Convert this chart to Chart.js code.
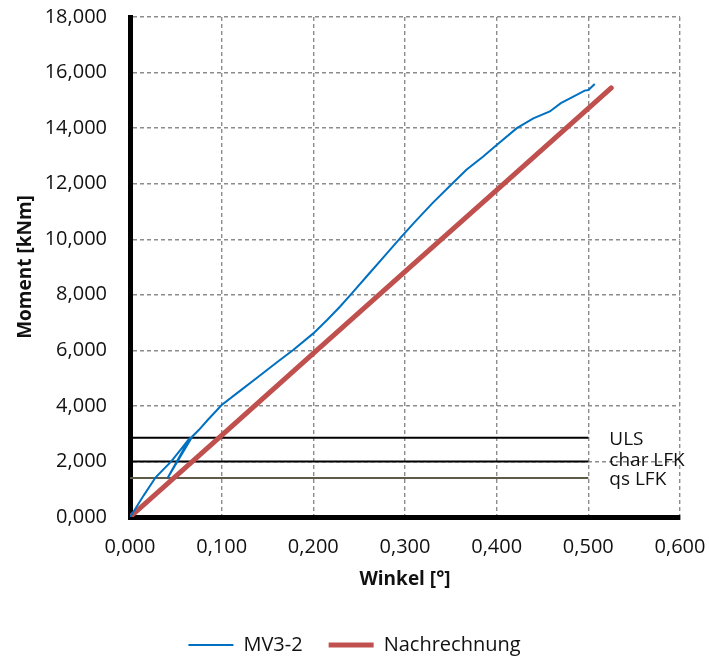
<!DOCTYPE html>
<html><head><meta charset="utf-8">
<script src="https://cdn.jsdelivr.net/npm/chart.js@4.4.0/dist/chart.umd.min.js"></script>
<style>html,body{margin:0;padding:0;background:#fff}#wrap{width:709px;height:661px}</style>
</head><body><div id="wrap"><canvas id="c" width="709" height="661"></canvas></div>
<script>
// ---- data ----
const mvAngle  = [0,0.005,0.015,0.028,0.045,0.057,0.066,0.041,0.068,0.075,0.085,0.100,0.120,0.140,0.160,0.178,0.200,0.215,0.229,0.242,0.260,0.280,0.295,0.310,0.330,0.350,0.367,0.385,0.400,0.422,0.440,0.458,0.470,0.480,0.496,0.500,0.507];
const mvMoment = [0,0.25,0.78,1.43,2.00,2.50,2.88,1.40,2.90,3.13,3.50,4.03,4.54,5.05,5.56,6.01,6.61,7.09,7.57,8.05,8.73,9.48,10.05,10.60,11.30,11.95,12.50,12.97,13.39,14.00,14.35,14.60,14.90,15.07,15.35,15.37,15.59];
const calcAngle  = [0,0.1,0.2,0.3,0.4,0.5,0.525];
const calcMoment = [0,2.94,5.89,8.83,11.77,14.71,15.45];
const refLevels = [2.85, 2.00, 1.40];
const refLabels = ['ULS', 'char LFK', 'qs LFK'];
const refStart = 0, refEnd = 0.5;
const seriesNames = ['MV3-2', 'Nachrechnung'];
const xTitle = 'Winkel [°]';
const yTitle = 'Moment [kNm]';

const pts = (xs, ys) => xs.map((x, i) => ({x: x, y: ys[i]}));
const fmt = v => Number(v).toFixed(3).replace('.', ',');
const refColors = ['#000000', '#000000', '#5f5b47'];
const labelShift = [2, -1, 1.5];

const refLabelPlugin = {
  id: 'refLabels',
  afterDatasetsDraw(chart) {
    const {ctx, scales: {x, y}} = chart;
    ctx.save();
    ctx.font = '19px "Open Sans"';
    ctx.fillStyle = '#111';
    ctx.textBaseline = 'middle';
    ctx.textAlign = 'left';
    refLevels.forEach((v, i) => {
      ctx.fillText(refLabels[i], x.getPixelForValue(refEnd) + 21, y.getPixelForValue(v) + labelShift[i]);
    });
    ctx.restore();
  }
};

function draw() {
  const datasets = [
    {label: seriesNames[0], data: pts(mvAngle, mvMoment), borderColor: '#0070c0', backgroundColor: '#0070c0', borderWidth: 2, showLine: true, pointRadius: 0, tension: 0},
    {label: seriesNames[1], data: pts(calcAngle, calcMoment), borderColor: '#c0504d', backgroundColor: '#c0504d', borderWidth: 5, borderCapStyle: 'round', showLine: true, pointRadius: 0}
  ];
  refLevels.forEach((v, i) => datasets.push({
    label: refLabels[i], data: [{x: refStart, y: v}, {x: refEnd, y: v}],
    borderColor: refColors[i], backgroundColor: refColors[i], borderWidth: 2, showLine: true, pointRadius: 0
  }));

  new Chart(document.getElementById('c'), {
    type: 'scatter',
    data: {datasets},
    plugins: [refLabelPlugin],
    options: {
      responsive: false, animation: false, devicePixelRatio: 1,
      layout: {padding: {top: 17, right: 0, left: 0, bottom: -4}},
      plugins: {
        tooltip: {enabled: false},
        legend: {
          position: 'bottom',
          labels: {
            filter: item => item.datasetIndex < 2,
            usePointStyle: true, pointStyle: 'line', pointStyleWidth: 45,
            padding: 26, color: '#111', font: {family: '"Open Sans"', size: 20}
          }
        }
      },
      scales: {
        x: {
          type: 'linear', min: 0, max: 0.6,
          afterFit: s => { s.height = 92; s.paddingLeft = 0; s.paddingRight = 0; },
          ticks: {stepSize: 0.1, callback: v => fmt(v), color: '#111', padding: 18, font: {family: '"Open Sans"', size: 20}, maxRotation: 0},
          grid: {color: '#8c8c8c', lineWidth: 1.4, drawTicks: false},
          border: {display: true, color: '#000', width: 5, dash: [4, 3]},
          title: {display: true, text: xTitle, color: '#111', font: {family: '"Open Sans"', size: 19, weight: 'bold'}, padding: {top: 0, bottom: 18}}
        },
        y: {
          type: 'linear', min: 0, max: 18,
          afterFit: s => { s.width = 130; s.paddingTop = 0; s.paddingBottom = 0; },
          ticks: {stepSize: 2, callback: v => fmt(v), color: '#111', padding: 23, font: {family: '"Open Sans"', size: 20}},
          grid: {color: '#8c8c8c', lineWidth: 1.4, drawTicks: false},
          border: {display: true, color: '#000', width: 5, dash: [4, 3]},
          title: {display: true, text: yTitle, color: '#111', font: {family: '"Open Sans"', size: 19, weight: 'bold'}, padding: {top: 14, bottom: 0}}
        },
        yRightSpace: {
          type: 'linear', position: 'right', min: 0, max: 18,
          afterFit: s => { s.width = 29; s.paddingTop = 0; s.paddingBottom = 0; },
          ticks: {display: false}, grid: {display: false, drawTicks: false}, border: {display: false}
        }
      }
    }
  });
}
Promise.all([
  document.fonts.load('20px "Open Sans"'),
  document.fonts.load('bold 19px "Open Sans"')
]).then(draw, draw);
</script>
</body></html>
